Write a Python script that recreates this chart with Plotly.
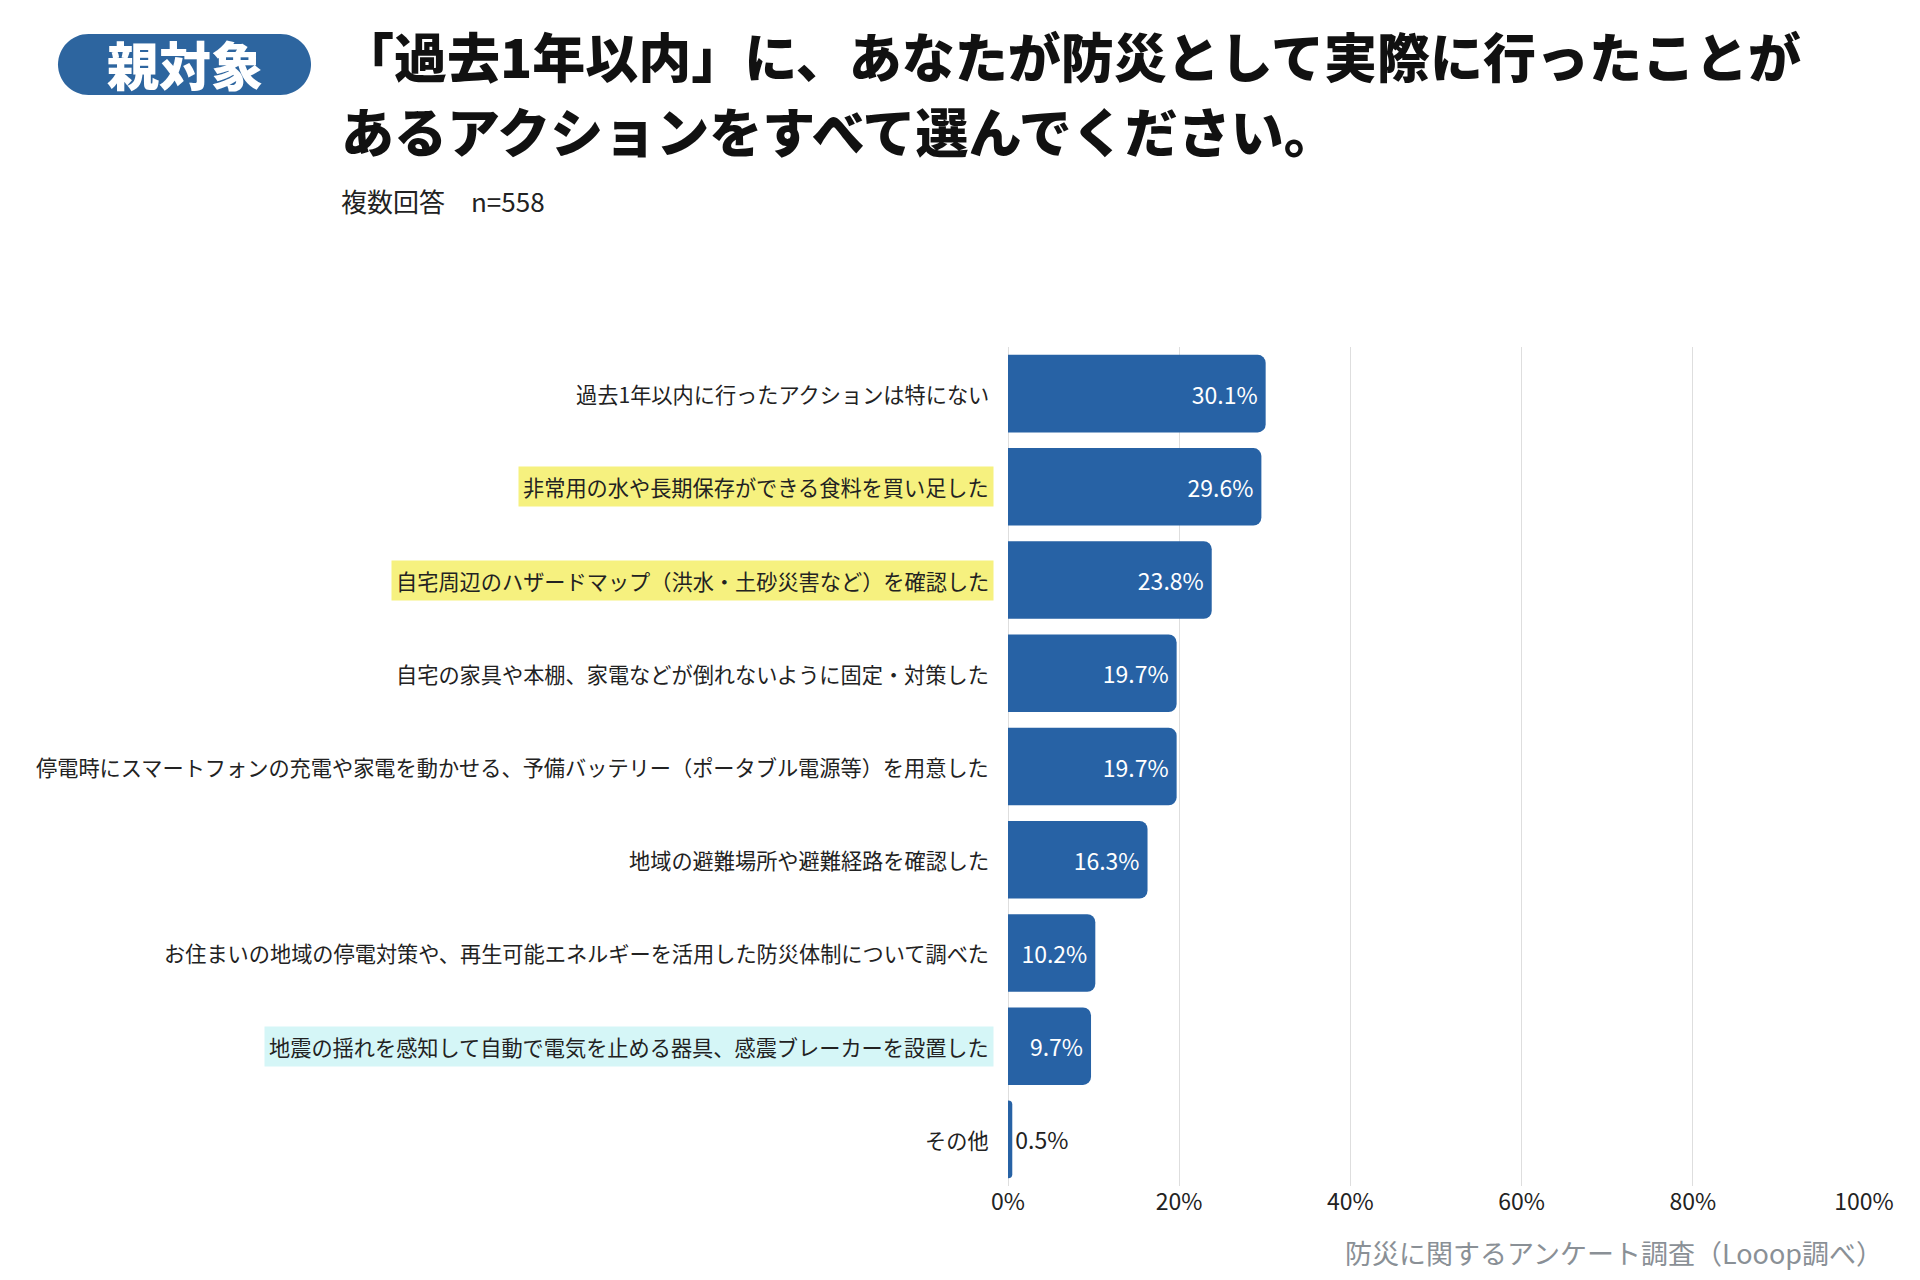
import plotly.graph_objects as go

categories = [
    "過去1年以内に行ったアクションは特にない",
    "非常用の水や長期保存ができる食料を買い足した",
    "自宅周辺のハザードマップ（洪水・土砂災害など）を確認した",
    "自宅の家具や本棚、家電などが倒れないように固定・対策した",
    "停電時にスマートフォンの充電や家電を動かせる、予備バッテリー（ポータブル電源等）を用意した",
    "地域の避難場所や避難経路を確認した",
    "お住まいの地域の停電対策や、再生可能エネルギーを活用した防災体制について調べた",
    "地震の揺れを感知して自動で電気を止める器具、感震ブレーカーを設置した",
    "その他",
]
values = [30.1, 29.6, 23.8, 19.7, 19.7, 16.3, 10.2, 9.7, 0.5]
highlight = [None, "#f6f17f", "#f6f17f", None, None, None, None, "#d5f6f7", None]
tick_vals = [0, 20, 40, 60, 80, 100]
tick_text = ["0%", "20%", "40%", "60%", "80%", "100%"]

W, H = 1920, 1280
L, R, T, B = 1000, 1856, 339, 1178
FONT = "Noto Sans CJK JP"
BAR = "#2762a5"


def px(x):
    return (x - L) / (R - L)


def py(y):
    return (B - y) / (B - T)


fig = go.Figure()
fig.add_trace(go.Bar(
    x=values,
    y=categories,
    orientation="h",
    marker=dict(color=BAR, line=dict(width=0), cornerradius=8),
    text=[f"{v:.1f}%" for v in values],
    textposition=["inside" if v > 3 else "outside" for v in values],
    insidetextanchor="end",
    insidetextfont=dict(color="white", size=23, family=FONT),
    outsidetextfont=dict(color="#222222", size=23, family=FONT),
    textangle=0,
    cliponaxis=False,
    hoverinfo="skip",
))

annotations = []
for cat, hl in zip(categories, highlight):
    ann = dict(
        x=0, y=cat, xref="x", yref="y",
        text=cat, showarrow=False,
        xanchor="right", yanchor="middle", xshift=-14,
        font=dict(family=FONT, size=21.2, color="#222222"),
        borderpad=4,
    )
    if hl:
        ann["bgcolor"] = hl
    annotations.append(ann)

# Title lines
annotations.append(dict(
    x=px(331), y=py(47), xref="paper", yref="paper",
    text="「過去1年以内」に、あなたが防災として実際に行ったことが",
    showarrow=False, xanchor="left", yanchor="middle",
    font=dict(family=FONT, size=53, color="#111111", weight=900),
))
annotations.append(dict(
    x=px(331), y=py(122), xref="paper", yref="paper",
    text="あるアクションをすべて選んでください。",
    showarrow=False, xanchor="left", yanchor="middle",
    font=dict(family=FONT, size=53, color="#111111", weight=900),
))
annotations.append(dict(
    x=px(331), y=py(192), xref="paper", yref="paper",
    text="複数回答　n=558",
    showarrow=False, xanchor="left", yanchor="middle",
    font=dict(family=FONT, size=26, color="#222222"),
))
# Badge text
annotations.append(dict(
    x=px(176.5), y=py(56), xref="paper", yref="paper",
    text="親対象",
    showarrow=False, xanchor="center", yanchor="middle",
    font=dict(family=FONT, size=52, color="white", weight=900),
))
# Source
annotations.append(dict(
    x=px(1877), y=py(1244), xref="paper", yref="paper",
    text="防災に関するアンケート調査（Looop調べ）",
    showarrow=False, xanchor="right", yanchor="middle",
    font=dict(family=FONT, size=27, color="#8a9096"),
))

# Pill-shaped badge built from cubic Beziers
bx0, bx1, by0, by1 = 50, 303, 26, 87
r = (by1 - by0) / 2
k = 0.5523 * r


def P(x, y):
    return f"{px(x):.6f},{py(y):.6f}"


path = (
    f"M {P(bx0 + r, by0)} L {P(bx1 - r, by0)} "
    f"C {P(bx1 - r + k, by0)} {P(bx1, by0 + r - k)} {P(bx1, by0 + r)} "
    f"C {P(bx1, by0 + r + k)} {P(bx1 - r + k, by1)} {P(bx1 - r, by1)} "
    f"L {P(bx0 + r, by1)} "
    f"C {P(bx0 + r - k, by1)} {P(bx0, by0 + r + k)} {P(bx0, by0 + r)} "
    f"C {P(bx0, by0 + r - k)} {P(bx0 + r - k, by0)} {P(bx0 + r, by0)} Z"
)
shapes = [dict(type="path", path=path, xref="paper", yref="paper",
               fillcolor="#2d659f", line=dict(width=0), layer="above")]

fig.update_layout(
    width=W, height=H,
    margin=dict(l=L, r=W - R, t=T, b=H - B, pad=0),
    paper_bgcolor="white", plot_bgcolor="white",
    showlegend=False,
    bargap=0.168,
    font=dict(family=FONT),
    xaxis=dict(
        range=[0, 100], tickvals=tick_vals, ticktext=tick_text,
        showgrid=True, gridcolor="#dedede", gridwidth=1,
        zeroline=True, zerolinecolor="#dedede", zerolinewidth=1,
        showline=False, ticks="",
        tickfont=dict(family=FONT, size=23, color="#222222"),
        fixedrange=True,
    ),
    yaxis=dict(
        autorange="reversed", showticklabels=False, showgrid=False,
        zeroline=False, showline=False, ticks="", fixedrange=True,
    ),
    annotations=annotations,
    shapes=shapes,
)

fig.write_html("out.html")
